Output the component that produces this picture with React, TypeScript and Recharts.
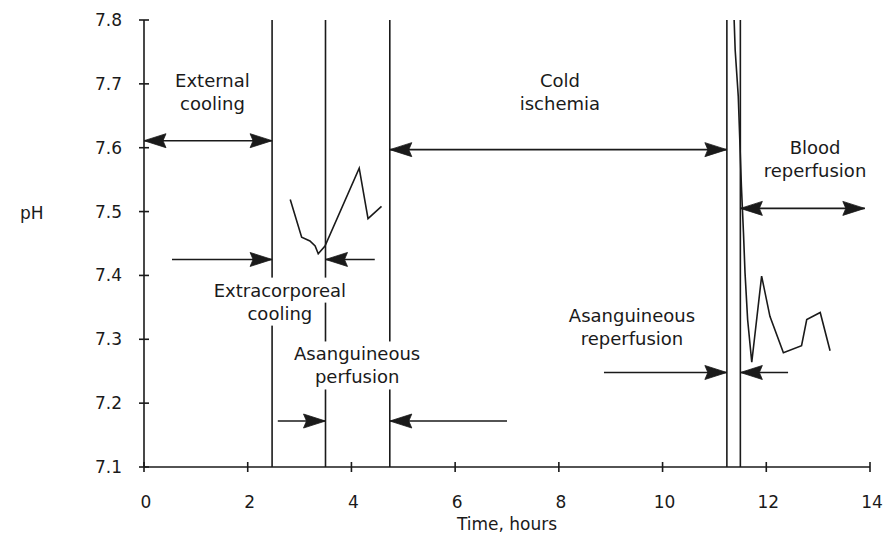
import React from 'react';
import { LineChart, Line, XAxis, YAxis, ReferenceLine } from 'recharts';

const xTicks = [0, 2, 4, 6, 8, 10, 12, 14];
const yTicks = [7.1, 7.2, 7.3, 7.4, 7.5, 7.6, 7.7, 7.8];

const perfusionTimes = [2.82, 3.04, 3.2, 3.3, 3.36, 3.49, 4.15, 4.32, 4.58];
const perfusionPh = [7.519, 7.46, 7.454, 7.446, 7.434, 7.446, 7.568, 7.489, 7.508];

const reperfusionTimes = [11.38, 11.4, 11.46, 11.52, 11.56, 11.59, 11.64, 11.72, 11.91, 12.07, 12.33, 12.68, 12.78, 13.04, 13.23];
const reperfusionPh = [7.8, 7.753, 7.68, 7.54, 7.467, 7.404, 7.331, 7.264, 7.399, 7.336, 7.279, 7.29, 7.331, 7.342, 7.282];

const phaseBoundaries = [2.47, 3.5, 4.74, 11.24, 11.5];

// arrows: from -> to at a pH level; heads: 'end' (at "to") or 'both'
const arrowFrom = [0, 0.54, 4.45, 2.58, 7.0, 4.74, 8.87, 12.42, 11.5];
const arrowTo = [2.47, 2.47, 3.5, 3.5, 4.74, 11.24, 11.24, 11.5, 13.9];
const arrowPh = [7.611, 7.425, 7.425, 7.172, 7.172, 7.597, 7.248, 7.248, 7.505];
const arrowHeads = ['both', 'end', 'end', 'end', 'end', 'both', 'end', 'end', 'both'];

const labelTexts = [
  ['External', 'cooling'],
  ['Extracorporeal', 'cooling'],
  ['Asanguineous', 'perfusion'],
  ['Cold', 'ischemia'],
  ['Asanguineous', 'reperfusion'],
  ['Blood', 'reperfusion'],
];
const labelX = [1.32, 2.62, 4.11, 8.02, 9.41, 12.94];
const labelY = [7.688, 7.359, 7.259, 7.688, 7.32, 7.583];
const labelBg = [false, true, true, false, false, false];

const INK = '#1a1a1a';
const FONT = '"DejaVu Sans", sans-serif';

const perfusionData = perfusionTimes.map((t, i) => ({ t, ph: perfusionPh[i] }));
const reperfusionData = reperfusionTimes.map((t, i) => ({ t, ph: reperfusionPh[i] }));

function arrowHead(tx: number, ty: number, dx: number, dy: number) {
  const L = 22;
  const W = 7;
  const bx = tx - dx * L;
  const by = ty - dy * L;
  const px = -dy;
  const py = dx;
  const nx = tx - dx * (L - 3);
  const ny = ty - dy * (L - 3);
  return `${tx},${ty} ${bx + px * W},${by + py * W} ${nx},${ny} ${bx - px * W},${by - py * W}`;
}

function makeArrowShape(heads: string) {
  return (props: any) => {
    const { x1, y1, x2, y2 } = props;
    const len = Math.hypot(x2 - x1, y2 - y1) || 1;
    const ux = (x2 - x1) / len;
    const uy = (y2 - y1) / len;
    return (
      <g>
        <line x1={x1} y1={y1} x2={x2} y2={y2} stroke={INK} strokeWidth={1.6} />
        <polygon points={arrowHead(x2, y2, ux, uy)} fill={INK} stroke={INK} strokeWidth={0.8} />
        {heads === 'both' && (
          <polygon points={arrowHead(x1, y1, -ux, -uy)} fill={INK} stroke={INK} strokeWidth={0.8} />
        )}
      </g>
    );
  };
}

function makeLabelShape(lines: string[], bg: boolean) {
  return (props: any) => {
    const cx = props.x1;
    const cy = props.y1;
    const lh = 23;
    const top = cy - ((lines.length - 1) * lh) / 2;
    return (
      <g>
        {bg &&
          lines.map((l, i) => {
            const w = l.length * 9.8 + 6;
            return <rect key={'r' + i} x={cx - w / 2} y={top + i * lh - 12.5} width={w} height={25} fill="#fff" />;
          })}
        {lines.map((l, i) => (
          <text
            key={'t' + i}
            x={cx}
            y={top + i * lh + 6.5}
            textAnchor="middle"
            fontFamily={FONT}
            fontSize={18}
            fill={INK}
          >
            {l}
          </text>
        ))}
      </g>
    );
  };
}

const YTick = (props: any) => {
  const { x, y, payload } = props;
  return (
    <g>
      <line x1={x - 5} y1={y} x2={x + 5} y2={y} stroke={INK} strokeWidth={1.6} />
      <text x={x - 22} y={y + 6} textAnchor="end" fontFamily={FONT} fontSize={17} fill={INK}>
        {payload.value.toFixed(1)}
      </text>
    </g>
  );
};

const XTick = (props: any) => {
  const { x, y, payload } = props;
  return (
    <g>
      <line x1={x} y1={y - 5} x2={x} y2={y + 5} stroke={INK} strokeWidth={1.6} />
      <text x={x + 2} y={y + 41} textAnchor="middle" fontFamily={FONT} fontSize={17} fill={INK}>
        {payload.value}
      </text>
    </g>
  );
};

const plainLine = (props: any) => (
  <line x1={props.x1} y1={props.y1} x2={props.x2} y2={props.y2} stroke={INK} strokeWidth={1.6} />
);

export default function App() {
  return (
    <div style={{ position: 'absolute', left: 0, top: 0, width: 889, height: 540, background: '#fff' }}>
      <LineChart width={889} height={540} margin={{ top: 20, right: 19, bottom: 0, left: 0 }}>
        <XAxis
          type="number"
          dataKey="t"
          domain={[0, 14]}
          ticks={xTicks}
          allowDataOverflow
          height={73}
          tickSize={0}
          tickMargin={0}
          tickLine={false}
          tick={<XTick />}
          axisLine={{ stroke: INK, strokeWidth: 1.6 }}
          label={{ value: 'Time, hours', position: 'insideBottom', offset: 10, fill: INK, fontFamily: FONT, fontSize: 17 }}
        />
        <YAxis
          type="number"
          dataKey="ph"
          domain={[7.1, 7.8]}
          ticks={yTicks}
          allowDataOverflow
          width={144}
          tickSize={0}
          tickMargin={0}
          tickLine={false}
          tick={<YTick />}
          axisLine={{ stroke: INK, strokeWidth: 1.6 }}
          label={{ value: 'pH', position: 'insideLeft', offset: 20, dy: -31, fill: INK, fontFamily: FONT, fontSize: 17 }}
        />
        {phaseBoundaries.map((b, i) => (
          <ReferenceLine
            key={'b' + i}
            segment={[
              { x: b, y: 7.1 },
              { x: b, y: 7.8 },
            ]}
            shape={plainLine}
          />
        ))}
        {arrowFrom.map((f, i) => (
          <ReferenceLine
            key={'a' + i}
            segment={[
              { x: f, y: arrowPh[i] },
              { x: arrowTo[i], y: arrowPh[i] },
            ]}
            shape={makeArrowShape(arrowHeads[i])}
          />
        ))}
        {labelTexts.map((lines, i) => (
          <ReferenceLine
            key={'l' + i}
            segment={[
              { x: labelX[i], y: labelY[i] },
              { x: labelX[i], y: labelY[i] },
            ]}
            shape={makeLabelShape(lines, labelBg[i])}
          />
        ))}
        <Line
          data={perfusionData}
          dataKey="ph"
          type="linear"
          stroke={INK}
          strokeWidth={1.6}
          dot={false}
          activeDot={false}
          isAnimationActive={false}
        />
        <Line
          data={reperfusionData}
          dataKey="ph"
          type="linear"
          stroke={INK}
          strokeWidth={1.6}
          dot={false}
          activeDot={false}
          isAnimationActive={false}
        />
      </LineChart>
    </div>
  );
}
